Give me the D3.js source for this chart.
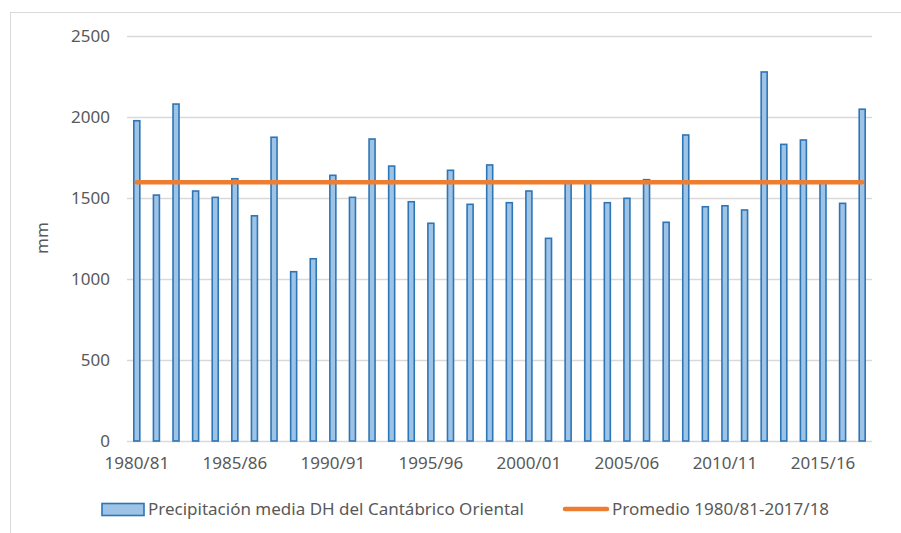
<!DOCTYPE html>
<html>
<head>
<meta charset="utf-8">
<script src="https://cdn.jsdelivr.net/npm/d3@7"></script>
<style>
  body { margin: 0; background: #fff; }
  text { font-family: "Noto Sans", "Open Sans", sans-serif; fill: #595959; }
</style>
</head>
<body>
<script>
const years = ['1980/81', '1981/82', '1982/83', '1983/84', '1984/85', '1985/86', '1986/87',
  '1987/88', '1988/89', '1989/90', '1990/91', '1991/92', '1992/93', '1993/94', '1994/95',
  '1995/96', '1996/97', '1997/98', '1998/99', '1999/00', '2000/01', '2001/02', '2002/03',
  '2003/04', '2004/05', '2005/06', '2006/07', '2007/08', '2008/09', '2009/10', '2010/11',
  '2011/12', '2012/13', '2013/14', '2014/15', '2015/16', '2016/17', '2017/18'];
const precip = [1977, 1518, 2080, 1543, 1504, 1619, 1390, 1875, 1045, 1125, 1640, 1504,
  1864, 1697, 1477, 1344, 1671, 1461, 1704, 1471, 1543, 1251, 1600, 1605, 1471, 1498,
  1613, 1350, 1889, 1446, 1452, 1426, 2278, 1831, 1858, 1600, 1467, 2048];
const average = 1597;
const yTicks = [0, 500, 1000, 1500, 2000, 2500];
const xLabels = ['1980/81', '1985/86', '1990/91', '1995/96', '2000/01', '2005/06', '2010/11', '2015/16'];

const width = 901, height = 533;
const plotL = 127, plotR = 872, plotT = 36, plotB = 441;
const fs = 17;

const svg = d3.select('body').append('svg')
  .attr('width', width)
  .attr('height', height);

// chart frame
svg.append('rect')
  .attr('x', 10.5).attr('y', 12.5)
  .attr('width', 900).attr('height', 540)
  .attr('fill', 'none')
  .attr('stroke', '#d9d9d9');

const x = d3.scaleBand().domain(years).range([plotL, plotR]);
const y = d3.scaleLinear().domain([0, 2500]).range([plotB, plotT]);

// gridlines + y labels
const yAxis = d3.axisLeft(y).tickValues(yTicks).tickFormat(d3.format('d'))
  .tickSize(-(plotR - plotL)).tickPadding(17);
const gy = svg.append('g')
  .attr('transform', 'translate(' + plotL + ',0)')
  .call(yAxis);
gy.select('.domain').remove();
gy.selectAll('.tick line').attr('stroke', '#d9d9d9').attr('stroke-width', 1.5);
gy.selectAll('.tick text').attr('font-size', fs).attr('fill', '#595959');

// x labels
const xAxis = d3.axisBottom(x).tickValues(xLabels).tickSize(0).tickPadding(16);
const gx = svg.append('g')
  .attr('transform', 'translate(0,' + plotB + ')')
  .call(xAxis);
gx.select('.domain').remove();
gx.selectAll('.tick text').attr('font-size', fs).attr('fill', '#595959');

// bars
const bw = 6;
svg.selectAll('rect.bar')
  .data(precip)
  .enter()
  .append('rect')
  .attr('class', 'bar')
  .attr('x', (d, i) => x(years[i]) + x.bandwidth() / 2 - bw / 2)
  .attr('y', (d) => y(d))
  .attr('width', bw)
  .attr('height', (d) => y(0) - y(d))
  .attr('fill', '#9dc3e6')
  .attr('stroke', '#2e75b6')
  .attr('stroke-width', 1.6);

// average line
const cx = (i) => x(years[i]) + x.bandwidth() / 2;
svg.append('line')
  .attr('x1', cx(0)).attr('x2', cx(years.length - 1))
  .attr('y1', y(average)).attr('y2', y(average))
  .attr('stroke', '#ed7d31')
  .attr('stroke-width', 4.5)
  .attr('stroke-linecap', 'round');

// legend
const lg = svg.append('g');
lg.append('rect')
  .attr('x', 102).attr('y', 503.5)
  .attr('width', 42).attr('height', 12)
  .attr('fill', '#9dc3e6')
  .attr('stroke', '#2e75b6')
  .attr('stroke-width', 1.6);
lg.append('text')
  .attr('x', 148).attr('y', 515)
  .attr('font-size', fs)
  .text('Precipitación media DH del Cantábrico Oriental');
lg.append('line')
  .attr('x1', 565).attr('x2', 607)
  .attr('y1', 509).attr('y2', 509)
  .attr('stroke', '#ed7d31')
  .attr('stroke-width', 4.5)
  .attr('stroke-linecap', 'round');
lg.append('text')
  .attr('x', 612).attr('y', 515)
  .attr('font-size', fs)
  .text('Promedio 1980/81-2017/18');

// y title
svg.append('text')
  .attr('transform', 'translate(48,238) rotate(-90)')
  .attr('text-anchor', 'middle')
  .attr('font-size', fs)
  .text('mm');
</script>
</body>
</html>
